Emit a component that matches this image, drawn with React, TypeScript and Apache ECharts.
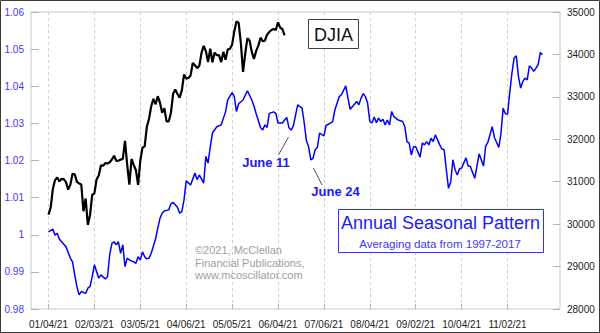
import React, { useEffect, useRef } from "react";
import * as echarts from "echarts";

// x axis: trading-day index relative to 01/04/21 (category axis spans these days)
const firstDay = -8;
const lastDay = 234;
const tickStep = 21;
const tickLabels = [
  "01/04/21", "02/03/21", "03/05/21", "04/06/21", "05/05/21", "06/04/21",
  "07/06/21", "08/04/21", "09/02/21", "10/04/21", "11/02/21",
];

// DJIA daily closes, 01/04/21 .. 06/09/21 (right axis)
const djiaCloses = [
  30223.89, 30391.6, 30829.4, 31041.13, 31097.97,
  31008.69, 31068.69, 31060.47, 30991.52, 30814.26,
  30930.52, 31188.38, 31176.01, 30996.98,
  30960.0, 30937.04, 30303.17, 30603.36, 29982.62,
  30211.91, 30687.48, 30723.6, 31055.86, 31148.24,
  31385.76, 31375.83, 31437.8, 31430.7, 31458.4,
  31522.75, 31613.02, 31493.34, 31494.32,
  31521.69, 31537.35, 31961.86, 31402.01, 30932.37,
  31535.51, 31391.52, 31270.09, 30924.14, 31496.3,
  31802.44, 31832.74, 32297.02, 32485.59, 32778.64,
  32953.46, 32825.95, 33015.37, 32862.3, 32627.97,
  32731.2, 32423.15, 32420.06, 32619.48, 33072.88,
  33171.37, 33066.96, 32981.55, 33153.21,
  33527.19, 33430.24, 33446.26, 33503.57, 33800.6,
  33745.4, 33677.27, 33730.89, 34035.99, 34200.67,
  34077.63, 33821.3, 34137.31, 33815.9, 34043.49,
  33981.57, 33984.93, 33820.38, 34060.36, 33874.85,
  34113.23, 34133.03, 34230.34, 34548.53, 34777.76,
  34742.82, 34269.16, 33587.66, 34021.45, 34382.13,
  34327.79, 34060.66, 33896.04, 34084.15, 34207.84,
  34393.98, 34312.46, 34323.05, 34464.64, 34529.45,
  34575.31, 34600.38, 34577.04, 34756.39,
  34630.24, 34599.82, 34447.14,
];

// Annual seasonal pattern (left axis), read at its turning points
const seasonalDays = [
  0, 2, 3, 4, 5, 6, 8, 10, 11, 12, 13, 14, 15, 17, 18, 19, 20, 21, 22, 23, 24, 26, 27, 28, 29,
  30, 31, 32, 33, 34, 35, 36, 37, 39, 40, 41, 42, 43, 44, 45, 46, 47, 49, 50, 51, 52, 53, 55, 56,
  57, 59, 60, 61, 62, 63, 65, 67, 68, 69, 71, 72, 73, 74, 75, 77, 79, 81, 82, 84, 85, 86, 87, 89,
  91, 93, 94, 95, 97, 98, 99, 100, 101, 103, 104, 105, 107, 108, 109, 110, 111, 112, 114, 116,
  117, 118, 119, 120, 121, 122, 123, 124, 126, 127, 128, 130, 131, 133, 134, 136, 137, 138, 139,
  141, 142, 143, 144, 145, 146, 147, 148, 149, 150, 151, 152, 153, 154, 155, 156, 157, 158, 160,
  162, 163, 164, 165, 166, 167, 168, 170, 171, 172, 173, 174, 175, 176, 177, 179, 180, 181, 182,
  183, 184, 185, 186, 187, 188, 189, 191, 192, 193, 195, 196, 197, 199, 200, 201, 203, 204, 206,
  207, 208, 209, 210, 211, 212, 213, 214, 215, 216, 217, 218, 219, 220, 221, 222, 223, 224, 225, 226,
];
const seasonalValues = [
  1.0008, 1.0015, 0.9999, 1.0004, 0.9988, 0.9981, 0.9968, 0.9937, 0.9927, 0.9892, 0.986, 0.9838,
  0.9847, 0.9842, 0.9856, 0.986, 0.9887, 0.9919, 0.9901, 0.9883, 0.9892, 0.9881, 0.9887, 0.9946,
  0.9977, 0.9981, 0.9973, 0.9981, 0.995, 0.9973, 0.9914, 0.9937, 0.9932, 0.9927, 0.9923, 0.9941,
  0.9932, 0.9954, 0.9941, 0.9935, 0.9937, 0.995, 0.9989, 1.0018, 1.0044, 1.0058, 1.0064, 1.0067,
  1.0083, 1.0087, 1.0074, 1.0058, 1.0062, 1.0094, 1.0145, 1.0134, 1.0166, 1.0148, 1.0161, 1.0139,
  1.0211, 1.0193, 1.0237, 1.0274, 1.0291, 1.0296, 1.0331, 1.0363, 1.0383, 1.0372, 1.0332, 1.0353,
  1.0363, 1.0388, 1.0363, 1.0347, 1.0326, 1.0289, 1.0282, 1.0296, 1.0289, 1.0327, 1.0331, 1.0327,
  1.0301, 1.0301, 1.0309, 1.0316, 1.0288, 1.0282, 1.0293, 1.035, 1.0341, 1.0301, 1.0253, 1.0237,
  1.0202, 1.0206, 1.0229, 1.0235, 1.0274, 1.0266, 1.0295, 1.0297, 1.0305, 1.0336, 1.0372, 1.0377,
  1.0401, 1.0368, 1.0338, 1.0345, 1.0359, 1.035, 1.0368, 1.038, 1.0372, 1.0354, 1.0305, 1.0301,
  1.0317, 1.0302, 1.0314, 1.0305, 1.0311, 1.0296, 1.0309, 1.0296, 1.0332, 1.0318, 1.0309, 1.0305,
  1.0291, 1.0251, 1.0247, 1.0215, 1.0237, 1.0237, 1.0209, 1.0247, 1.0242, 1.0251, 1.0242, 1.026,
  1.0251, 1.0269, 1.0242, 1.0231, 1.0229, 1.0175, 1.0125, 1.0142, 1.0202, 1.0175, 1.0161, 1.0177,
  1.018, 1.0207, 1.0185, 1.0184, 1.0152, 1.0185, 1.0218, 1.0185, 1.0239, 1.0249, 1.0291, 1.0262,
  1.0235, 1.0274, 1.0341, 1.0326, 1.0325, 1.0382, 1.0435, 1.0476, 1.0482, 1.0426, 1.0395, 1.0413,
  1.0422, 1.0417, 1.0455, 1.0449, 1.044, 1.0449, 1.0458, 1.0491, 1.0485,
];

const FONT = 'Arial, "Liberation Sans", sans-serif';

export default function App() {
  const ref = useRef<HTMLDivElement>(null);

  useEffect(() => {
    if (!ref.current) return;
    const chart = echarts.init(ref.current, null, { renderer: "svg" });

    const categories: string[] = [];
    for (let d = firstDay; d <= lastDay; d++) categories.push(String(d));
    const isTick = (index: number) => {
      const d = index + firstDay;
      return d >= 0 && d % tickStep === 0 && d / tickStep < tickLabels.length;
    };

    const option: any = {
      animation: false,
      backgroundColor: "#ffffff",
      grid: {
        left: 31,
        right: 40,
        top: 12,
        bottom: 24,
        show: true,
        borderColor: "#c8c8c8",
        borderWidth: 1,
        containLabel: false,
        outerBoundsMode: "none",
      },
      xAxis: {
        type: "category",
        data: categories,
        boundaryGap: false,
        axisLine: { show: false },
        axisTick: {
          show: true,
          inside: true,
          length: 5,
          interval: (i: number) => isTick(i),
          lineStyle: { color: "#b4b4b4" },
        },
        axisLabel: {
          interval: (i: number) => isTick(i),
          formatter: (v: string) => tickLabels[Number(v) / tickStep] ?? "",
          color: "#222222",
          fontSize: 10,
          fontFamily: FONT,
          margin: 10,
        },
        splitLine: {
          show: true,
          interval: (i: number) => isTick(i),
          lineStyle: { color: "#cfcfcf", type: [3, 3], width: 1 },
        },
      },
      yAxis: [
        {
          type: "value",
          position: "left",
          min: 0.98,
          max: 1.06,
          interval: 0.01,
          axisLine: { show: false },
          axisTick: { show: true, inside: true, length: 8, lineStyle: { color: "#b4b4b4" } },
          axisLabel: {
            color: "#3a3aff",
            fontSize: 10,
            fontFamily: FONT,
            margin: 7,
            formatter: (v: number) => String(Number(v.toFixed(2))),
          },
          splitLine: { show: false },
        },
        {
          type: "value",
          position: "right",
          min: 28000,
          max: 35000,
          interval: 1000,
          axisLine: { show: false },
          axisTick: { show: true, inside: true, length: 7, lineStyle: { color: "#b4b4b4" } },
          axisLabel: {
            color: "#222222",
            fontSize: 10,
            fontFamily: FONT,
            margin: 7,
            formatter: (v: number) => String(v),
          },
          splitLine: { show: false },
        },
      ],
      series: [
        {
          type: "line",
          name: "Annual Seasonal Pattern",
          yAxisIndex: 0,
          data: seasonalDays.map((d, i) => [d - firstDay, seasonalValues[i]]),
          symbol: "none",
          showSymbol: false,
          lineStyle: { color: "#0000ff", width: 1.5 },
          itemStyle: { color: "#0000ff" },
          z: 2,
        },
        {
          type: "line",
          name: "DJIA",
          yAxisIndex: 1,
          data: djiaCloses.map((v, i) => [i - firstDay, v]),
          symbol: "none",
          showSymbol: false,
          lineStyle: { color: "#000000", width: 2.2 },
          itemStyle: { color: "#000000" },
          z: 3,
        },
      ],
      graphic: [
        {
          type: "rect",
          z: 100,
          silent: true,
          shape: { x: 0.5, y: 0.5, width: 599, height: 332 },
          style: { fill: "none", stroke: "#3c3c3c", lineWidth: 1 },
        },
        {
          type: "rect",
          z: 100,
          shape: { x: 308.5, y: 19.5, width: 50, height: 29 },
          style: { fill: "#ffffff", stroke: "#404040", lineWidth: 1 },
        },
        {
          type: "text",
          z: 101,
          x: 333.5,
          y: 34.5,
          style: {
            text: "DJIA",
            fontSize: 18,
            fontFamily: FONT,
            fill: "#111111",
            align: "center",
            verticalAlign: "middle",
          },
        },
        {
          type: "rect",
          z: 100,
          shape: { x: 338.5, y: 209.5, width: 205, height: 43 },
          style: { fill: "#ffffff", stroke: "#3030ff", lineWidth: 1 },
        },
        {
          type: "text",
          z: 101,
          x: 440.5,
          y: 222.5,
          style: {
            text: "Annual Seasonal Pattern",
            fontSize: 18,
            fontFamily: FONT,
            fill: "#1a1aff",
            align: "center",
            verticalAlign: "middle",
          },
        },
        {
          type: "text",
          z: 101,
          x: 440,
          y: 243.5,
          style: {
            text: "Averaging data from 1997-2017",
            fontSize: 11.5,
            fontFamily: FONT,
            fill: "#3a3aff",
            align: "center",
            verticalAlign: "middle",
          },
        },
        {
          type: "text",
          z: 101,
          x: 195,
          y: 250,
          style: { text: "©2021, McClellan", fontSize: 11, fontFamily: FONT, fill: "#a0a0a0", align: "left", verticalAlign: "middle" },
        },
        {
          type: "text",
          z: 101,
          x: 195,
          y: 262.5,
          style: { text: "Financial Publications,", fontSize: 11, fontFamily: FONT, fill: "#a0a0a0", align: "left", verticalAlign: "middle" },
        },
        {
          type: "text",
          z: 101,
          x: 195,
          y: 274.5,
          style: { text: "www.mcoscillator.com", fontSize: 11, fontFamily: FONT, fill: "#a0a0a0", align: "left", verticalAlign: "middle" },
        },
        {
          type: "line",
          z: 101,
          shape: { x1: 278.5, y1: 155, x2: 288.5, y2: 137 },
          style: { stroke: "#505050", lineWidth: 1 },
        },
        {
          type: "text",
          z: 101,
          x: 266,
          y: 162,
          style: {
            text: "June 11",
            fontSize: 13,
            fontWeight: "bold",
            fontFamily: FONT,
            fill: "#1a1aff",
            align: "center",
            verticalAlign: "middle",
          },
        },
        {
          type: "line",
          z: 101,
          shape: { x1: 313.5, y1: 168, x2: 322, y2: 185 },
          style: { stroke: "#505050", lineWidth: 1 },
        },
        {
          type: "text",
          z: 101,
          x: 335.5,
          y: 191.5,
          style: {
            text: "June 24",
            fontSize: 13,
            fontWeight: "bold",
            fontFamily: FONT,
            fill: "#1a1aff",
            align: "center",
            verticalAlign: "middle",
          },
        },
      ],
    };

    chart.setOption(option);
    return () => chart.dispose();
  }, []);

  return (
    <div
      ref={ref}
      style={{ position: "fixed", left: 0, top: 0, width: 600, height: 333, background: "#ffffff" }}
    />
  );
}
